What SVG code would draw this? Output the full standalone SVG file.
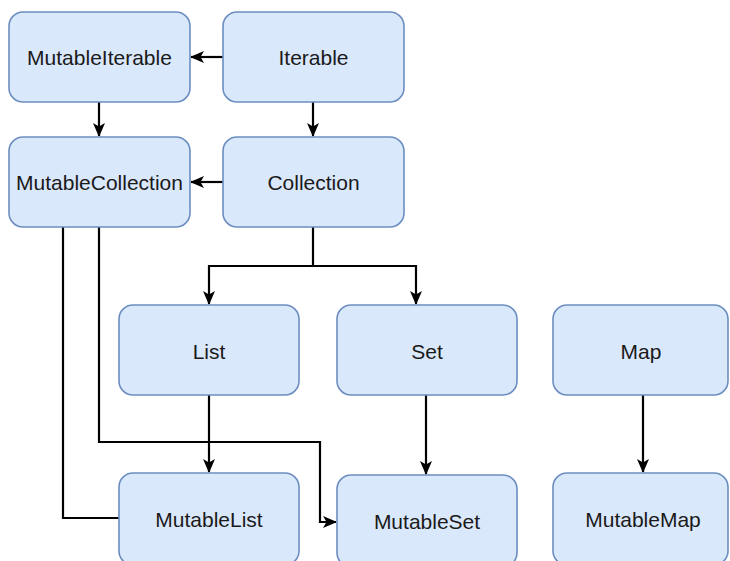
<svg xmlns="http://www.w3.org/2000/svg" width="730" height="561" viewBox="0 0 730 561">
<style>
.box{fill:#dae8fc;stroke:#6c8ebf;stroke-width:1.6}
.lbl{font-family:"Liberation Sans",Arial,sans-serif;font-size:21px;fill:#1a1a1a;text-anchor:middle}
.edge{fill:none;stroke:#000;stroke-width:2.2}
</style>
<defs>
<marker id="arr" viewBox="0 0 14 12" refX="13" refY="6" markerWidth="14" markerHeight="12" markerUnits="userSpaceOnUse" orient="auto">
<path d="M0,0 L14,6 L0,12 L3.5,6 Z" fill="#000"/>
</marker>
</defs>
<rect width="730" height="561" fill="#fff"/>
<g id="connectors">
<path class="edge" d="M223,57 H191" marker-end="url(#arr)"/>
<path class="edge" d="M99,102 V136" marker-end="url(#arr)"/>
<path class="edge" d="M313,102 V136" marker-end="url(#arr)"/>
<path class="edge" d="M223,182 H191" marker-end="url(#arr)"/>
<path class="edge" d="M313,227 V266 H209 V304" marker-end="url(#arr)"/>
<path class="edge" d="M313,266 H416 V304" marker-end="url(#arr)"/>
<path class="edge" d="M63,227 V518 H119"/>
<path class="edge" d="M99,227 V442 H320 V522 H336" marker-end="url(#arr)"/>
<path class="edge" d="M209,395 V472" marker-end="url(#arr)"/>
<path class="edge" d="M426,395 V474" marker-end="url(#arr)"/>
<path class="edge" d="M643,395 V472" marker-end="url(#arr)"/>
</g>
<g id="MutableIterable"><rect class="box" x="9" y="12" width="181" height="90" rx="14"/><text class="lbl" x="99.5" y="65">MutableIterable</text></g>
<g id="Iterable"><rect class="box" x="223" y="12" width="181" height="90" rx="14"/><text class="lbl" x="313.5" y="65">Iterable</text></g>
<g id="MutableCollection"><rect class="box" x="9" y="137" width="181" height="90" rx="14"/><text class="lbl" x="99.5" y="190">MutableCollection</text></g>
<g id="Collection"><rect class="box" x="223" y="137" width="181" height="90" rx="14"/><text class="lbl" x="313.5" y="190">Collection</text></g>
<g id="List"><rect class="box" x="119" y="305" width="180" height="90" rx="14"/><text class="lbl" x="209" y="358.5">List</text></g>
<g id="Set"><rect class="box" x="337" y="305" width="180" height="90" rx="14"/><text class="lbl" x="427" y="358.5">Set</text></g>
<g id="Map"><rect class="box" x="553" y="305" width="175" height="90" rx="14"/><text class="lbl" x="641" y="358.5">Map</text></g>
<g id="MutableList"><rect class="box" x="119" y="473" width="180" height="92" rx="14"/><text class="lbl" x="209" y="526.5">MutableList</text></g>
<g id="MutableSet"><rect class="box" x="337" y="475" width="180" height="92" rx="14"/><text class="lbl" x="427" y="528.5">MutableSet</text></g>
<g id="MutableMap"><rect class="box" x="553" y="473" width="175" height="92" rx="14"/><text class="lbl" x="643" y="526.5">MutableMap</text></g>
</svg>
